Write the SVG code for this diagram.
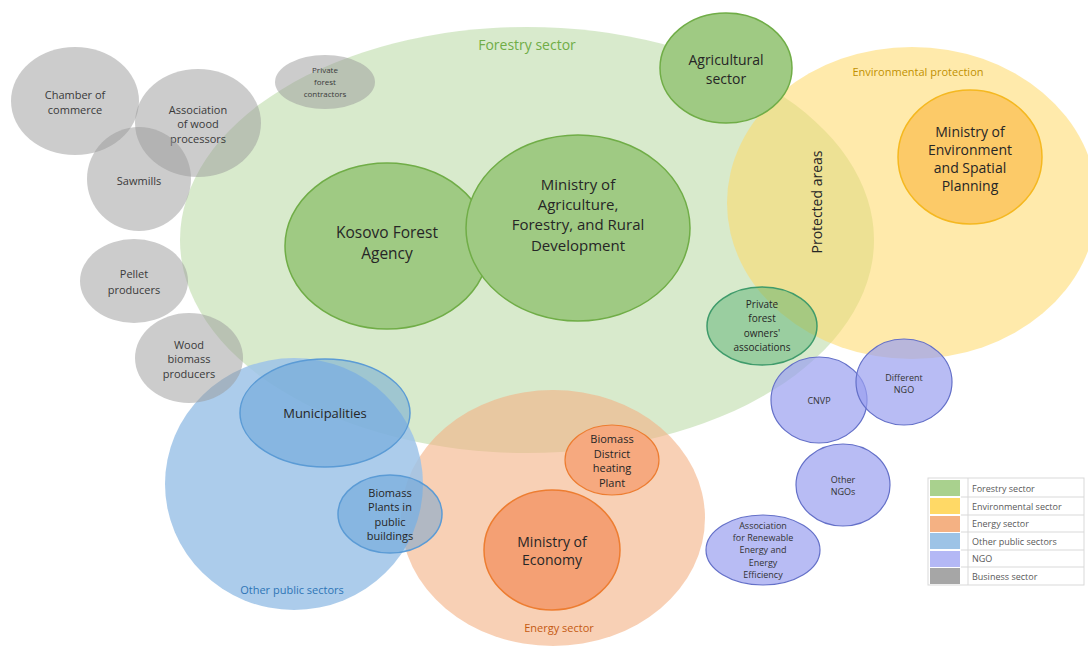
<svg xmlns="http://www.w3.org/2000/svg" width="1088" height="648" viewBox="0 0 1088 648">
<style>
text{font-family:"Open Sans","Noto Sans",sans-serif;text-anchor:middle;dominant-baseline:central;fill:#262626}
.g{fill:#999;fill-opacity:.5}
.gt{fill:#3a3a3a;font-size:11px}
.inner{fill:#9fca83;stroke:#70ad47;stroke-width:1.5}
.ngo{fill:#9aa0f0;fill-opacity:.7;stroke:#6470c8;stroke-width:1.2}
.nt{font-size:9px;fill:#333}
.blue{fill:#5b9bd5;fill-opacity:.45;stroke:#5b9bd5;stroke-width:1.5}
.org{fill:#f4a074;stroke:#ed7d31;stroke-width:1.5}
.lg{font-size:9px;fill:#595959;text-anchor:start}
</style>
<rect width="1088" height="648" fill="#fff"/>
<g id="sectors">
<g id="forestry"><ellipse cx="527" cy="240" rx="347" ry="213" fill="#a9d18e" fill-opacity=".45"/><text x="527" y="44" style="font-size:14px;fill:#70ad47">Forestry sector</text></g>
<g id="environmental"><ellipse cx="912" cy="203" rx="185" ry="156" fill="#ffd966" fill-opacity=".55"/><text x="918" y="71" style="font-size:11px;fill:#bf9000">Environmental protection</text></g>
<g id="energy"><ellipse cx="553" cy="518" rx="152" ry="128" fill="#f4b183" fill-opacity=".6"/><text x="559" y="627" style="font-size:11px;fill:#c55a11">Energy sector</text></g>
<g id="public"><ellipse cx="294" cy="484" rx="129" ry="126" fill="#9ec3e8" fill-opacity=".85"/><text x="292" y="589" style="font-size:11px;fill:#2e75b6">Other public sectors</text></g>
</g>
<g id="protected-areas"><text transform="translate(816 202) rotate(-90)" style="font-size:14px">Protected areas</text></g>
<g id="agricultural"><ellipse class="inner" cx="726" cy="68" rx="66" ry="55"/><text x="726" y="59" style="font-size:14px">Agricultural</text><text x="726" y="78" style="font-size:14px">sector</text></g>
<g id="kfa"><ellipse class="inner" cx="387" cy="246" rx="102" ry="83"/><text x="387" y="232" style="font-size:15.5px">Kosovo Forest</text><text x="387" y="253" style="font-size:15.5px">Agency</text></g>
<g id="mafrd"><ellipse class="inner" cx="578" cy="228" rx="112" ry="93"/><text x="578" y="184" style="font-size:15px">Ministry of</text><text x="578" y="204" style="font-size:15px">Agriculture,</text><text x="578" y="224" style="font-size:15px">Forestry, and Rural</text><text x="578" y="245" style="font-size:15px">Development</text></g>
<g id="mesp"><ellipse cx="970" cy="157" rx="72" ry="67" fill="#fcca68" stroke="#f5b820" stroke-width="1.5"/><text x="970" y="131" style="font-size:14px">Ministry of</text><text x="970" y="149" style="font-size:14px">Environment</text><text x="970" y="167" style="font-size:14px">and Spatial</text><text x="970" y="185" style="font-size:14px">Planning</text></g>
<g id="pfoa"><ellipse cx="762" cy="326" rx="55" ry="39" fill="#4fae6a" fill-opacity=".45" stroke="#3f9b6b" stroke-width="1.5"/><text x="762" y="304" style="font-size:10px">Private</text><text x="762" y="318" style="font-size:10px">forest</text><text x="762" y="333" style="font-size:10px">owners'</text><text x="762" y="347" style="font-size:10px">associations</text></g>
<g id="municipalities"><ellipse class="blue" cx="325" cy="413" rx="85" ry="54"/><text x="325" y="413" style="font-size:13px">Municipalities</text></g>
<g id="biomass-plants"><ellipse class="blue" cx="390" cy="514" rx="52" ry="39"/><text x="390" y="492" style="font-size:11px">Biomass</text><text x="390" y="506" style="font-size:11px">Plants in</text><text x="390" y="521" style="font-size:11px">public</text><text x="390" y="535" style="font-size:11px">buildings</text></g>
<g id="district-heating"><ellipse cx="612" cy="460" rx="47" ry="35" fill="#f6a97f" stroke="#ed7d31" stroke-width="1.2"/><text x="612" y="438" style="font-size:11px">Biomass</text><text x="612" y="453" style="font-size:11px">District</text><text x="612" y="467" style="font-size:11px">heating</text><text x="612" y="482" style="font-size:11px">Plant</text></g>
<g id="moe"><ellipse class="org" cx="552" cy="550" rx="68" ry="60"/><text x="552" y="541" style="font-size:14px">Ministry of</text><text x="552" y="559" style="font-size:14px">Economy</text></g>
<g id="cnvp"><ellipse class="ngo" cx="819" cy="400" rx="48" ry="43"/><text class="nt" x="819" y="400">CNVP</text></g>
<g id="different-ngo"><ellipse class="ngo" cx="904" cy="382" rx="48" ry="43"/><text class="nt" x="904" y="377">Different</text><text class="nt" x="904" y="389">NGO</text></g>
<g id="other-ngos"><ellipse class="ngo" cx="843" cy="485" rx="47" ry="41"/><text class="nt" x="843" y="479">Other</text><text class="nt" x="843" y="491">NGOs</text></g>
<g id="arere"><ellipse class="ngo" cx="763" cy="550" rx="57" ry="35"/><text class="nt" x="763" y="525">Association</text><text class="nt" x="763" y="537">for Renewable</text><text class="nt" x="763" y="549">Energy and</text><text class="nt" x="763" y="562">Energy</text><text class="nt" x="763" y="574">Efficiency</text></g>
<g id="chamber"><ellipse class="g" cx="75" cy="101" rx="64" ry="54"/><text class="gt" x="75" y="94">Chamber of</text><text class="gt" x="75" y="109">commerce</text></g>
<g id="awp"><ellipse class="g" cx="198" cy="123" rx="63" ry="54"/><text class="gt" x="198" y="109">Association</text><text class="gt" x="198" y="123">of wood</text><text class="gt" x="198" y="138">processors</text></g>
<g id="sawmills"><ellipse class="g" cx="139" cy="179" rx="52" ry="52"/><text class="gt" x="139" y="180">Sawmills</text></g>
<g id="pfc"><ellipse class="g" cx="325" cy="82" rx="50" ry="27"/><text class="gt" x="325" y="69" style="font-size:8px">Private</text><text class="gt" x="325" y="81" style="font-size:8px">forest</text><text class="gt" x="325" y="93" style="font-size:8px">contractors</text></g>
<g id="pellet"><ellipse class="g" cx="134" cy="281" rx="54" ry="42"/><text class="gt" x="134" y="273">Pellet</text><text class="gt" x="134" y="289">producers</text></g>
<g id="wbp"><ellipse class="g" cx="189" cy="358" rx="54" ry="45"/><text class="gt" x="189" y="344">Wood</text><text class="gt" x="189" y="358">biomass</text><text class="gt" x="189" y="373">producers</text></g>
<g id="connectors"></g>
<g id="legend">
<rect x="928" y="478" width="156" height="107" fill="#fff" stroke="#d9d9d9"/>
<rect x="930" y="480" width="30" height="16" fill="#a9d18e"/>
<rect x="930" y="498" width="30" height="16" fill="#ffd966"/>
<rect x="930" y="516" width="30" height="16" fill="#f4b183"/>
<rect x="930" y="533" width="30" height="16" fill="#9dc3e6"/>
<rect x="930" y="551" width="30" height="16" fill="#b4b8f5"/>
<rect x="930" y="568" width="30" height="16" fill="#a6a6a6"/>
<g stroke="#d9d9d9" stroke-width="1">
<line x1="961" y1="497" x2="1084" y2="497"/><line x1="961" y1="515" x2="1084" y2="515"/><line x1="961" y1="532" x2="1084" y2="532"/><line x1="961" y1="550" x2="1084" y2="550"/><line x1="961" y1="567" x2="1084" y2="567"/>
<line x1="968" y1="478" x2="968" y2="585"/>
</g>
<text class="lg" x="972" y="488">Forestry sector</text>
<text class="lg" x="972" y="506">Environmental sector</text>
<text class="lg" x="972" y="523">Energy sector</text>
<text class="lg" x="972" y="541">Other public sectors</text>
<text class="lg" x="972" y="558">NGO</text>
<text class="lg" x="972" y="576">Business sector</text>
</g>
</svg>
